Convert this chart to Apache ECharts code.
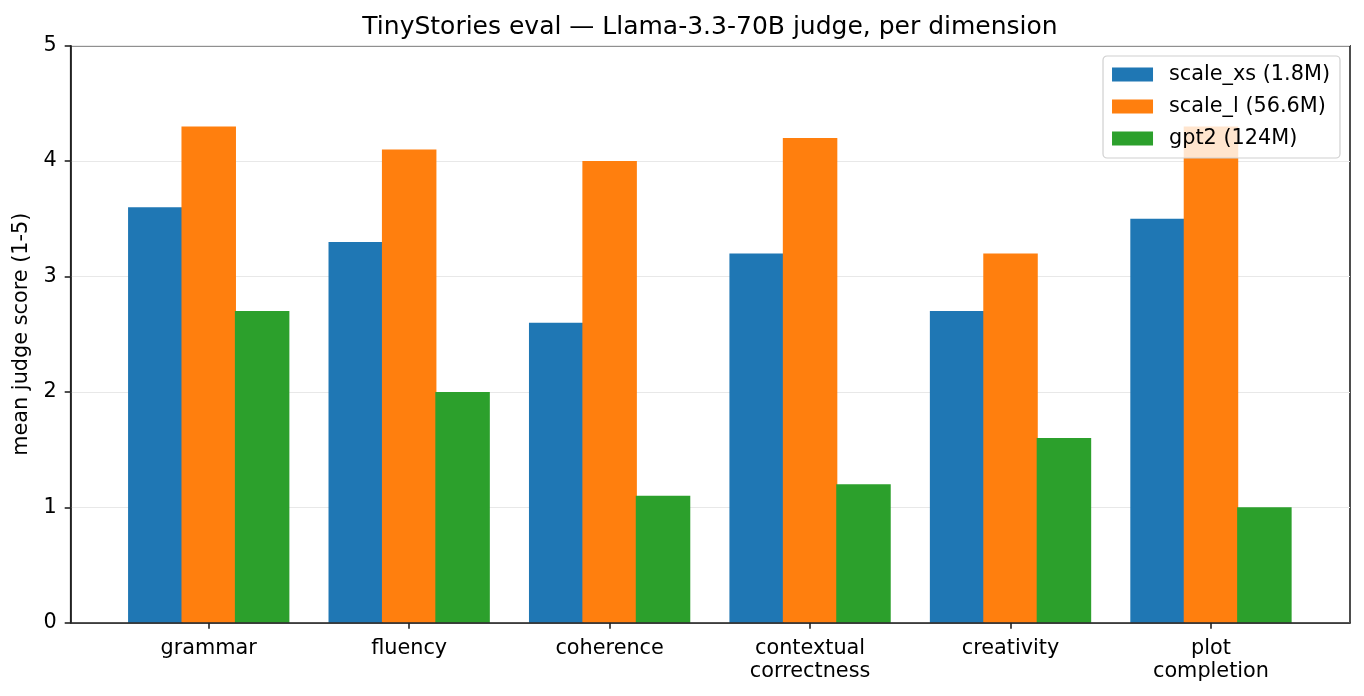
<!DOCTYPE html>
<html>
<head>
<meta charset="utf-8">
<title>TinyStories eval</title>
<script src="https://cdn.jsdelivr.net/npm/echarts@6/dist/echarts.min.js"></script>
<style>
  html, body { margin: 0; padding: 0; background: #fff; }
  #chart { width: 1364px; height: 696px; }
</style>
</head>
<body>
<div id="chart"></div>
<script>
// 各评测维度
const categories = ['grammar', 'fluency', 'coherence', 'contextual\ncorrectness', 'creativity', 'plot\ncompletion'];
const seriesNames = ['scale_xs (1.8M)', 'scale_l (56.6M)', 'gpt2 (124M)'];
const scaleXs = [3.6, 3.3, 2.6, 3.2, 2.7, 3.5];
const scaleL = [4.3, 4.1, 4.0, 4.2, 3.2, 4.3];
const gpt2 = [2.7, 2.0, 1.1, 1.2, 1.6, 1.0];
const yTicks = [0, 1, 2, 3, 4, 5];

const colors = ['#1f77b4', '#ff7f0e', '#2ca02c'];
const font = 'DejaVu Sans';
const fs = 20.8;

const chart = echarts.init(document.getElementById('chart'));

// 柱子 数据 (稍微重叠一点, 避免柱子之间出现白缝)
const seriesValues = [scaleXs, scaleL, gpt2];
const series = seriesNames.map((name, i) => ({
  name: name,
  type: 'bar',
  xAxisIndex: 1,
  yAxisIndex: 1,
  barWidth: 54.5,
  barGap: '-2%',
  itemStyle: { color: colors[i] },
  data: seriesValues[i],
  z: 2
}));

chart.setOption({
  backgroundColor: '#fff',
  animation: false,
  textStyle: { fontFamily: font },
  title: {
    text: 'TinyStories eval \u2014 Llama-3.3-70B judge, per dimension',
    left: 705,
    textAlign: 'center',
    top: 10,
    textStyle: { fontFamily: font, fontSize: 25, fontWeight: 'normal', color: '#000' }
  },
  legend: {
    data: seriesNames,
    orient: 'vertical',
    right: 24,
    top: 56,
    padding: [8, 10, 9, 9],
    itemWidth: 41,
    itemHeight: 14,
    itemGap: 11,
    icon: 'rect',
    backgroundColor: 'rgba(255,255,255,0.8)',
    borderColor: '#d0d0d0',
    borderWidth: 1.2,
    borderRadius: 4,
    textStyle: { fontFamily: font, fontSize: fs, color: '#000', padding: [0, 0, 0, 11] },
    z: 20
  },
  grid: [
    // 外框 + y 轴
    { left: 70.7, top: 45.7, width: 1279.3, height: 577, show: true, borderColor: '#222', borderWidth: 1.6, backgroundColor: 'transparent' },
    // 柱子用的分类轴
    { left: 108.5, top: 45.7, width: 1202.7, height: 577 }
  ],
  xAxis: [
    {
      type: 'value', gridIndex: 0, min: 0, max: 1,
      axisLine: { show: true, lineStyle: { color: '#222', width: 1.6 } },
      axisTick: { show: false }, axisLabel: { show: false }, splitLine: { show: false },
      z: 10
    },
    {
      type: 'category', gridIndex: 1, data: categories,
      axisLine: { show: false },
      axisTick: { show: true, alignWithLabel: true, length: 6, lineStyle: { color: '#222', width: 1.6 } },
      axisLabel: { fontFamily: font, fontSize: fs, color: '#000', margin: 14, lineHeight: 23 },
      splitLine: { show: false }
    }
  ],
  yAxis: [
    {
      type: 'value', gridIndex: 0, min: 0, max: 5, interval: 1,
      name: 'mean judge score (1-5)',
      nameLocation: 'middle',
      nameRotate: 90,
      nameGap: 31,
      nameTextStyle: { fontFamily: font, fontSize: fs, color: '#000' },
      axisLine: { show: true, lineStyle: { color: '#222', width: 1.6 } },
      axisTick: { show: true, length: 6, lineStyle: { color: '#222', width: 1.6 } },
      axisLabel: {
        fontFamily: font, fontSize: fs, color: '#000', margin: 14,
        formatter: v => yTicks.indexOf(v) >= 0 ? String(v) : ''
      },
      splitLine: { show: true, lineStyle: { color: '#e8e8e8', width: 1.2 } }
    },
    {
      type: 'value', gridIndex: 1, min: 0, max: 5, interval: 1,
      show: false
    }
  ],
  series: series
});
</script>
</body>
</html>
